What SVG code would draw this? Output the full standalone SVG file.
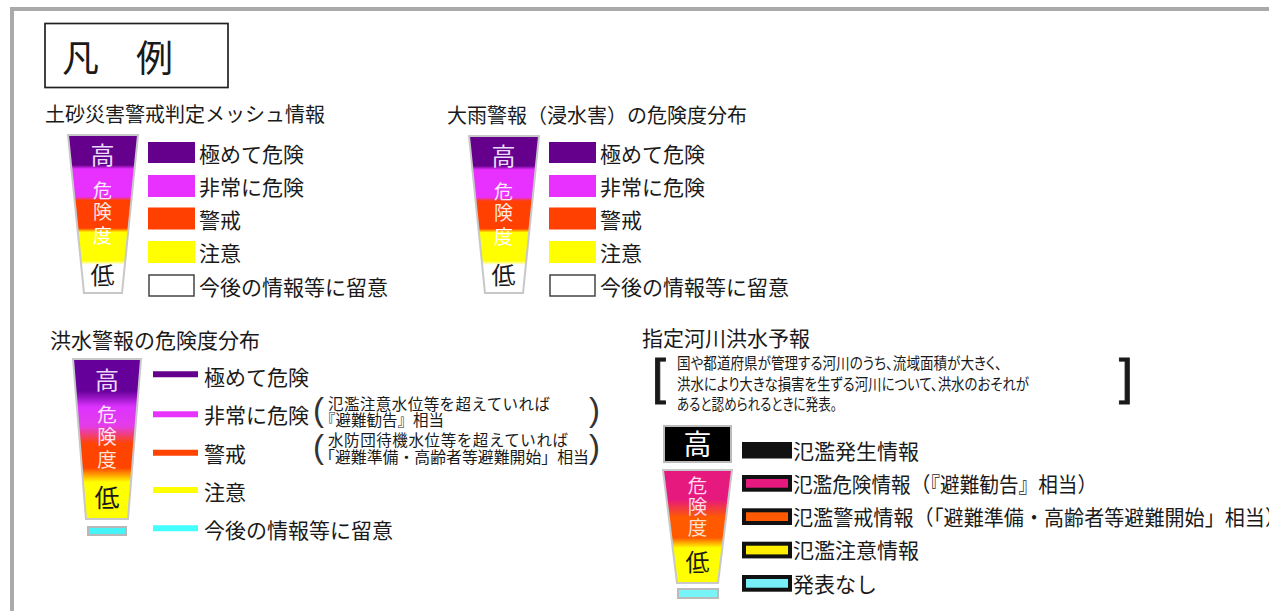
<svg xmlns="http://www.w3.org/2000/svg" width="1269" height="611" viewBox="0 0 1269 611">
<style>
.t{font-family:"Noto Sans CJK JP","Noto Sans CJK SC",sans-serif;fill:#1a1a1a}
.ttl{font-size:20px}
.ttl2{font-size:21px}
.lbl{font-size:21px}
.note{font-size:15.5px}
.desc{font-size:16px;font-feature-settings:"palt"}
.bt{text-anchor:middle}
.par{font-family:"Liberation Sans",sans-serif;fill:#333}
.brk{font-family:"Liberation Sans",sans-serif;fill:#1a1a1a;stroke:#1a1a1a;stroke-width:0.9}
.bar{stroke:#c8c8c8;stroke-width:2}
.box4{stroke:#111;stroke-width:4}
</style>
<defs>
<linearGradient id="g1" x1="0" y1="0" x2="0" y2="1">
<stop offset="0" stop-color="#65008c"/><stop offset="0.19" stop-color="#65008c"/>
<stop offset="0.215" stop-color="#e830ff"/><stop offset="0.39" stop-color="#e830ff"/>
<stop offset="0.415" stop-color="#ff4000"/><stop offset="0.59" stop-color="#ff4000"/>
<stop offset="0.615" stop-color="#ffff00"/><stop offset="0.795" stop-color="#ffff00"/>
<stop offset="0.82" stop-color="#ffffff"/><stop offset="1" stop-color="#ffffff"/>
</linearGradient>
<linearGradient id="g3" x1="0" y1="0" x2="0" y2="1">
<stop offset="0" stop-color="#66009a"/><stop offset="0.2" stop-color="#66009a"/>
<stop offset="0.3" stop-color="#dd33ff"/><stop offset="0.42" stop-color="#e43ce8"/>
<stop offset="0.53" stop-color="#ff4400"/><stop offset="0.68" stop-color="#ff4400"/>
<stop offset="0.77" stop-color="#ffff00"/><stop offset="1" stop-color="#ffff00"/>
</linearGradient>
<linearGradient id="g4" x1="0" y1="0" x2="0" y2="1">
<stop offset="0" stop-color="#e6197f"/><stop offset="0.26" stop-color="#e6197f"/>
<stop offset="0.42" stop-color="#ff5a00"/><stop offset="0.6" stop-color="#ff5a00"/>
<stop offset="0.69" stop-color="#ffff00"/><stop offset="1" stop-color="#ffff00"/>
</linearGradient>
</defs>
<rect width="1269" height="611" fill="#ffffff"/>
<g id="frame"><rect x="12" y="9" width="1320" height="700" fill="none" stroke="#aaaaaa" stroke-width="4"/></g>
<g id="title">
<rect x="45" y="23.5" width="183" height="64" fill="#fff" stroke="#222" stroke-width="1.7"/>
<text class="t" x="62" y="71.5" font-size="37">凡　例</text>
</g>

<g id="legend-dosha">
<text class="t ttl" x="45" y="122">土砂災害警戒判定メッシュ情報</text>
<polygon class="bar" points="68,135 138,135 122,293 84,293" fill="url(#g1)"/>
<text class="t bt" x="102.5" y="164" font-size="24" style="fill:#eadcf8">高</text>
<text class="t bt" x="102.5" y="197.5" font-size="19" style="fill:#fbe8ff">危</text>
<text class="t bt" x="102.5" y="219" font-size="19" style="fill:#ffe8e0">険</text>
<text class="t bt" x="102.5" y="243" font-size="19" style="fill:#ffffff">度</text>
<text class="t bt" x="102.5" y="284" font-size="24">低</text>
<rect x="148" y="142" width="47" height="21" fill="#65008c"/>
<rect x="148" y="175" width="47" height="22" fill="#e830ff"/>
<rect x="148" y="207.5" width="47" height="22" fill="#ff4000"/>
<rect x="148" y="241" width="47" height="22" fill="#ffff00"/>
<rect x="149" y="275" width="45" height="21" fill="#fff" stroke="#444" stroke-width="1.5"/>
<text class="t lbl" x="199" y="162">極めて危険</text>
<text class="t lbl" x="199" y="195">非常に危険</text>
<text class="t lbl" x="199" y="228">警戒</text>
<text class="t lbl" x="199" y="261">注意</text>
<text class="t lbl" x="199" y="295">今後の情報等に留意</text>
</g>

<g id="legend-ooame">
<text class="t ttl" x="447" y="123">大雨警報（浸水害）の危険度分布</text>
<polygon class="bar" points="469,136 539,136 523,293 485,293" fill="url(#g1)"/>
<text class="t bt" x="503.5" y="165" font-size="24" style="fill:#eadcf8">高</text>
<text class="t bt" x="503.5" y="198.5" font-size="19" style="fill:#fbe8ff">危</text>
<text class="t bt" x="503.5" y="220" font-size="19" style="fill:#ffe8e0">険</text>
<text class="t bt" x="503.5" y="244" font-size="19" style="fill:#ffffff">度</text>
<text class="t bt" x="503.5" y="284" font-size="24">低</text>
<rect x="549" y="142" width="47" height="21" fill="#65008c"/>
<rect x="549" y="175" width="47" height="22" fill="#e830ff"/>
<rect x="549" y="207.5" width="47" height="22" fill="#ff4000"/>
<rect x="549" y="241" width="47" height="22" fill="#ffff00"/>
<rect x="550" y="275" width="45" height="21" fill="#fff" stroke="#444" stroke-width="1.5"/>
<text class="t lbl" x="600" y="162">極めて危険</text>
<text class="t lbl" x="600" y="195">非常に危険</text>
<text class="t lbl" x="600" y="228">警戒</text>
<text class="t lbl" x="600" y="261">注意</text>
<text class="t lbl" x="600" y="295">今後の情報等に留意</text>
</g>

<g id="legend-kouzui">
<text class="t ttl2" x="50" y="348">洪水警報の危険度分布</text>
<polygon class="bar" points="73,359 141,359 128,519 86,519" fill="url(#g3)"/>
<text class="t bt" x="107" y="389" font-size="24" style="fill:#ecd8fa">高</text>
<text class="t bt" x="107" y="421.5" font-size="19.5" style="fill:#fde4ff">危</text>
<text class="t bt" x="107" y="443.5" font-size="19.5" style="fill:#ffe4f0">険</text>
<text class="t bt" x="107" y="466.5" font-size="19.5" style="fill:#ffe6dc">度</text>
<text class="t bt" x="107" y="507" font-size="25">低</text>
<rect x="88" y="527" width="38" height="8" fill="#44f4f8" stroke="#b8b8b8" stroke-width="2"/>
<line x1="153" y1="374.3" x2="198" y2="374.3" stroke="#65008c" stroke-width="6"/>
<line x1="153" y1="414.3" x2="198" y2="414.3" stroke="#e833ff" stroke-width="6"/>
<line x1="153" y1="452.7" x2="198" y2="452.7" stroke="#ff4400" stroke-width="6"/>
<line x1="153" y1="490" x2="198" y2="490" stroke="#ffff00" stroke-width="6"/>
<line x1="153" y1="528.3" x2="198" y2="528.3" stroke="#44ffff" stroke-width="6"/>
<text class="t lbl" x="204" y="385">極めて危険</text>
<text class="t lbl" x="204" y="423">非常に危険</text>
<text class="t lbl" x="204" y="462">警戒</text>
<text class="t lbl" x="204" y="500">注意</text>
<text class="t lbl" x="204" y="538">今後の情報等に留意</text>
<text class="par" x="313" y="421" font-size="33">(</text>
<text class="t note" x="328" y="409.5" textLength="222">氾濫注意水位等を超えていれば</text>
<text class="t note" x="320" y="425.5">『避難勧告』相当</text>
<text class="par" x="589" y="421" font-size="33">)</text>
<text class="par" x="313" y="458" font-size="33">(</text>
<text class="t note" x="328" y="446" textLength="240">水防団待機水位等を超えていれば</text>
<text class="t note" x="319" y="463" textLength="270" lengthAdjust="spacingAndGlyphs">「避難準備・高齢者等避難開始」相当</text>
<text class="par" x="589" y="458" font-size="33">)</text>
</g>

<g id="legend-kasen">
<text class="t ttl2" x="642" y="346">指定河川洪水予報</text>
<text class="brk" x="652" y="394" font-size="50">[</text>
<text class="t desc" x="677" y="369" textLength="325" lengthAdjust="spacingAndGlyphs">国や都道府県が管理する河川のうち、流域面積が大きく、</text>
<text class="t desc" x="677" y="390" textLength="352" lengthAdjust="spacingAndGlyphs">洪水により大きな損害を生ずる河川について、洪水のおそれが</text>
<text class="t desc" x="677" y="410" textLength="160" lengthAdjust="spacingAndGlyphs">あると認められるときに発表。</text>
<text class="brk" x="1119" y="394" font-size="50">]</text>
<rect x="664" y="426" width="67" height="36" fill="#000" stroke="#bbbbbb" stroke-width="2"/>
<text class="t bt" x="697.5" y="455" font-size="28" style="fill:#ffffff">高</text>
<polygon class="bar" points="663,470 732,470 718,583 677,583" fill="url(#g4)"/>
<text class="t bt" x="697.5" y="493" font-size="19.5" style="fill:#ffd8ea">危</text>
<text class="t bt" x="697.5" y="514" font-size="19.5" style="fill:#ffd8ea">険</text>
<text class="t bt" x="697.5" y="534.5" font-size="19.5" style="fill:#ffe0d0">度</text>
<text class="t bt" x="697.5" y="570.5" font-size="24">低</text>
<rect x="678" y="589" width="40" height="9" fill="#77f4f8" stroke="#bbbbbb" stroke-width="2"/>
<rect x="742" y="442" width="50" height="16.5" fill="#111"/>
<rect class="box4" x="744" y="477" width="46" height="12.7" fill="#e6197f"/>
<rect class="box4" x="744" y="510.3" width="46" height="12.7" fill="#ff5a00"/>
<rect class="box4" x="744" y="543.7" width="46" height="12.7" fill="#ffee00"/>
<rect class="box4" x="744" y="577" width="46" height="12.7" fill="#77eef8"/>
<text class="t lbl" x="793" y="459">氾濫発生情報</text>
<text class="t lbl" x="793" y="492" textLength="304" lengthAdjust="spacingAndGlyphs">氾濫危険情報（『避難勧告』相当）</text>
<text class="t lbl" x="793" y="525" textLength="492" lengthAdjust="spacingAndGlyphs">氾濫警戒情報（「避難準備・高齢者等避難開始」相当）</text>
<text class="t lbl" x="793" y="558">氾濫注意情報</text>
<text class="t lbl" x="793" y="592">発表なし</text>
</g>
</svg>
